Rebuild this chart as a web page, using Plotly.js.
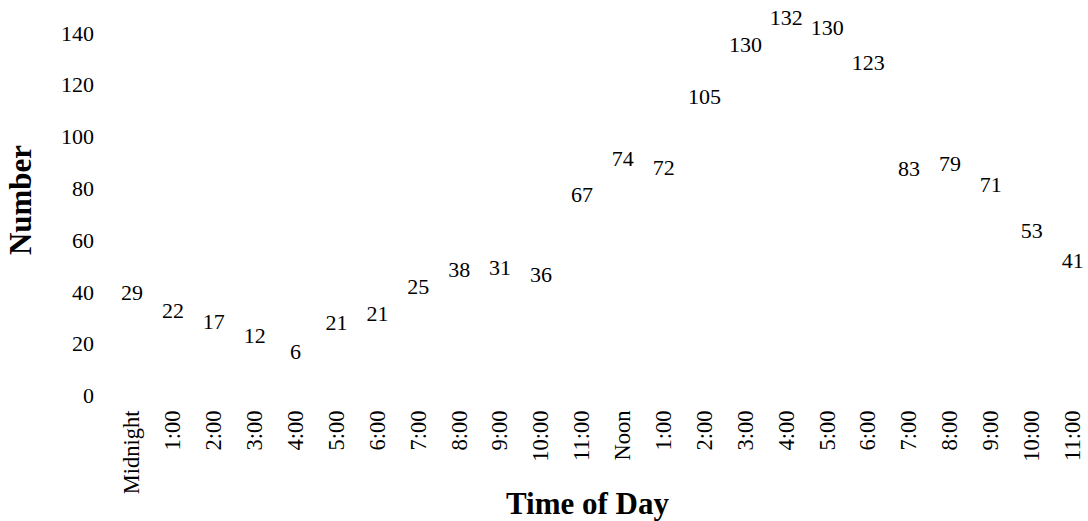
<!DOCTYPE html>
<html>
<head>
<meta charset="utf-8">
<script src="https://cdn.plot.ly/plotly-3.0.1.min.js"></script>
<style>html,body{margin:0;padding:0;background:#fff;}#chart{width:1088px;height:521px;}</style>
</head>
<body>
<div id="chart"></div>
<script>
// Hour-of-day tick labels
const hourLabels = ["Midnight","1:00","2:00","3:00","4:00","5:00","6:00","7:00","8:00","9:00","10:00","11:00",
                    "Noon","1:00","2:00","3:00","4:00","5:00","6:00","7:00","8:00","9:00","10:00","11:00"];
// Counts shown as the text labels
const counts = [29,22,17,12,6,21,21,25,38,31,36,67,74,72,105,130,132,130,123,83,79,71,53,41];
// Plotted (jittered) heights of each label
const plotY = [39.2,31.9,27.7,22.3,16.2,27.3,30.8,41.5,48,48.8,46,76.9,90.8,87.3,114.6,134.6,145,141.5,127.7,86.9,88.8,80.8,63,51.2];
// Y-axis ticks
const yTicks = [0,20,40,60,80,100,120,140];

const hourIndex = hourLabels.map((_, i) => i);
const serif = "Liberation Serif, Times New Roman, serif";

const trace = {
  type: "scatter",
  mode: "text",
  x: hourIndex,
  y: plotY,
  text: counts.map(String),
  textposition: "middle center",
  textfont: {family: serif, size: 22, color: "#000"},
  cliponaxis: false,
  hoverinfo: "text",
  showlegend: false
};

const layout = {
  width: 1088,
  height: 521,
  margin: {l: 95, r: 8, t: 0, b: 121},
  paper_bgcolor: "#fff",
  plot_bgcolor: "#fff",
  font: {family: serif, size: 22, color: "#000"},
  showlegend: false,
  xaxis: {
    range: [-0.905, 23.18],
    tickmode: "array",
    tickvals: hourIndex,
    ticktext: hourLabels,
    tickangle: -90,
    showgrid: false,
    zeroline: false,
    showline: false,
    ticks: "",
    ticklabelstandoff: 5,
    tickfont: {family: serif, size: 22.5, color: "#000"},
    title: {text: "Time of Day", font: {family: serif, size: 31, color: "#000", weight: "bold"}, standoff: 0}
  },
  yaxis: {
    range: [-1.7, 152.7],
    tickmode: "array",
    tickvals: yTicks,
    ticktext: yTicks.map(String),
    showgrid: false,
    zeroline: false,
    showline: false,
    ticks: "",
    tickfont: {family: serif, size: 22, color: "#000"},
    title: {text: "Number", font: {family: serif, size: 31, color: "#000", weight: "bold"}, standoff: 20}
  }
};

Plotly.newPlot("chart", [trace], layout, {staticPlot: true, displayModeBar: false});
</script>
</body>
</html>
